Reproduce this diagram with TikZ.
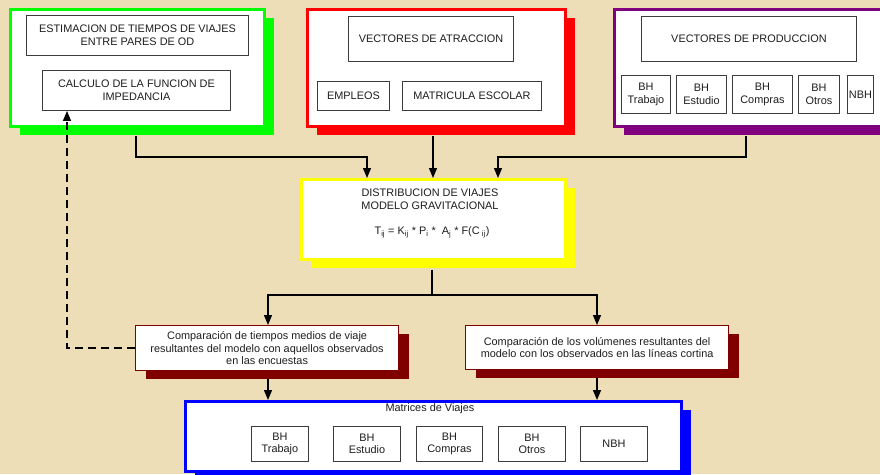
\documentclass[tikz,border=0pt]{standalone}
\usepackage{fontspec}
\setmainfont{Liberation Sans}
\usetikzlibrary{arrows.meta,shadows}
\definecolor{parch}{RGB}{238,222,184}
\definecolor{txtc}{RGB}{30,30,30}
\definecolor{innerc}{RGB}{60,60,60}
\definecolor{gframec}{RGB}{0,255,0}
\definecolor{rframec}{RGB}{255,0,0}
\definecolor{pframec}{RGB}{128,0,128}
\definecolor{yframec}{RGB}{255,255,0}
\definecolor{dframec}{RGB}{128,0,0}
\definecolor{bframec}{RGB}{0,0,255}
\begin{document}
\begin{tikzpicture}[x=1pt,y=-1pt,
  every node/.style={font=\fontsize{10.9}{12.5}\selectfont, text=txtc},
  outerbox/.style={draw=#1, line width=2.6pt, fill=white, rectangle, anchor=north west, inner sep=0pt,
    drop shadow={shadow xshift=9.5pt, shadow yshift=-8.5pt, fill=#1, opacity=1}},
  compbox/.style={draw=dframec, line width=1.2pt, fill=white, rectangle, anchor=north west, inner sep=0pt, align=center,
    drop shadow={shadow xshift=10pt, shadow yshift=-8.5pt, fill=dframec, opacity=1}},
  inbox/.style={draw=innerc, line width=0.9pt, fill=white, rectangle, anchor=north west, inner sep=0pt, align=center},
  plain/.style={align=center, inner sep=0pt},
  conn/.style={draw=black, line width=1.3pt},
  arr/.style={conn, -{Triangle[length=10pt,width=8pt]}},
  dasharr/.style={arr, dash pattern=on 8pt off 5pt}
]
\useasboundingbox (0,0) rectangle (880,474);
\clip (0,0) rectangle (880,474);
\fill[parch] (0,0) rectangle (880,474);

% ---- green group
\node[outerbox=gframec, minimum width=254pt, minimum height=117pt] (gframe) at (9,8) {};
\node[inbox, minimum width=222pt, minimum height=40pt] (est) at (26,15) {ESTIMACION DE TIEMPOS DE VIAJES\\ENTRE PARES DE OD};
\node[inbox, minimum width=188pt, minimum height=40pt] (calc) at (42,70) {CALCULO DE LA FUNCION DE\\IMPEDANCIA};

% ---- red group
\node[outerbox=rframec, minimum width=258pt, minimum height=117pt] (rframe) at (306,8) {};
\node[inbox, minimum width=165pt, minimum height=45pt] (atr) at (348,16) {VECTORES DE ATRACCION};
\node[inbox, minimum width=72pt, minimum height=29pt] (empl) at (317,81) {EMPLEOS};
\node[inbox, minimum width=139pt, minimum height=29pt] (matr) at (402,81) {MATRICULA ESCOLAR};

% ---- purple group
\node[outerbox=pframec, minimum width=277pt, minimum height=117pt] (pframe) at (613,8) {};
\node[inbox, minimum width=215pt, minimum height=45pt] (prod) at (641,16) {VECTORES DE PRODUCCION};
\node[inbox, minimum width=49pt, minimum height=38pt] (pbt) at (621,75) {BH\\Trabajo};
\node[inbox, minimum width=50pt, minimum height=38pt] (pbe) at (676,75) {BH\\Estudio};
\node[inbox, minimum width=60pt, minimum height=38pt] (pbc) at (732,75) {BH\\Compras};
\node[inbox, minimum width=41pt, minimum height=38pt] (pbo) at (798,75) {BH\\Otros};
\node[inbox, minimum width=26pt, minimum height=38pt] (pnbh) at (847,75) {NBH};

% ---- yellow group
\node[outerbox=yframec, minimum width=264pt, minimum height=80pt] (yframe) at (300,178) {};
\node[plain] (ytitle) at (430,199) {DISTRIBUCION DE VIAJES\\MODELO GRAVITACIONAL};
\node[plain] (yform) at (432,232) {T\textsubscript{ij} = K\textsubscript{ij} * P\textsubscript{i} *\ \ A\textsubscript{j} * F(C\textsubscript{ ij})};

% ---- comparison boxes
\node[compbox, minimum width=263pt, minimum height=45pt] (lcomp) at (135,325) {Comparación de tiempos medios de viaje\\resultantes del modelo con aquellos observados\\en las encuestas};
\node[compbox, minimum width=263pt, minimum height=44pt] (rcomp) at (465,325) {Comparación de los volúmenes resultantes del\\modelo con los observados en las líneas cortina};

% ---- blue group
\node[outerbox=bframec, minimum width=496pt, minimum height=70pt] (bframe) at (184,400) {};
\node[plain] (mtitle) at (430,409) {Matrices de Viajes};
\node[inbox, minimum width=57pt, minimum height=35pt] (mbt) at (251,426) {BH\\Trabajo};
\node[inbox, minimum width=67pt, minimum height=35pt] (mbe) at (333,426) {BH\\Estudio};
\node[inbox, minimum width=66pt, minimum height=35pt] (mbc) at (416,426) {BH\\Compras};
\node[inbox, minimum width=67pt, minimum height=35pt] (mbo) at (498,426) {BH\\Otros};
\node[inbox, minimum width=67pt, minimum height=35pt] (mnbh) at (580,426) {NBH};

% ---- helper coordinates
\coordinate (jg) at (136,157);
\coordinate (jl) at (367,157);
\coordinate (jm) at (433,157);
\coordinate (jp) at (746,157);
\coordinate (jr) at (498,157);
\coordinate (split) at (432,295);
\coordinate (a1) at (268,295);
\coordinate (a2) at (597,295);
\coordinate (d1) at (67,0);

% ---- connectors
\draw[arr] ([yshift=-8pt]gframe.south -| jg) -- (jg) -| (yframe.north -| jl);
\draw[arr] ([yshift=-8pt]rframe.south -| jm) -- (yframe.north -| jm);
\draw[arr] ([yshift=-8pt]pframe.south -| jp) -- (jp) -| (yframe.north -| jr);
\draw[conn] ([yshift=-9pt]yframe.south -| split) -- (split);
\draw[arr] (split) -| (lcomp.north -| a1);
\draw[arr] (split) -| (rcomp.north -| a2);
\draw[arr] ([yshift=-8pt]lcomp.south -| a1) -- (bframe.north -| a1);
\draw[arr] ([yshift=-8pt]rcomp.south -| a2) -- (bframe.north -| a2);
\draw[dasharr] (lcomp.west) -| (calc.south -| d1);
\end{tikzpicture}
\end{document}
